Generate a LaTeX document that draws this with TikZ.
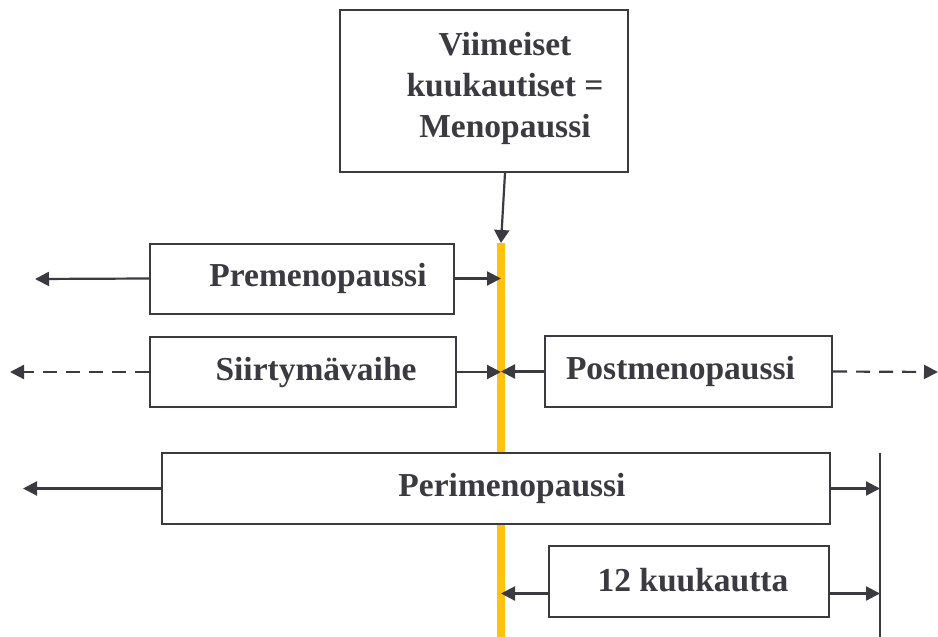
\documentclass[tikz,border=0pt]{standalone}
\usepackage{fontspec}
\setmainfont{Liberation Serif}
\usetikzlibrary{arrows.meta,calc}
\definecolor{ln}{HTML}{3A3A40}
\definecolor{barc}{HTML}{FFC20E}
\tikzset{
  box/.style={draw=ln, line width=2pt, fill=white, inner sep=0pt},
  txt/.style={text=ln, font=\fontsize{33.5}{41}\selectfont\bfseries, align=center, inner sep=0pt},
  arr/.style={draw=ln, line width=2.2pt, -{Triangle[length=14pt,width=14pt]}},
  darr/.style={arr, dash pattern=on 14pt off 9pt},
}
\begin{document}
\begin{tikzpicture}[x=1pt,y=-1pt]
\useasboundingbox (0,0) rectangle (938,637);
% yellow time line
\coordinate (bartop) at (501,243);
\coordinate (barbot) at (501,637);
\draw[barc, line width=7.5pt] (bartop) -- (barbot);
% black end line
\coordinate (vt) at (880,453);
\coordinate (vb) at (880,637);
\draw[ln, line width=1.8pt] (vt) -- (vb);
% top box
\node[box, minimum width=288pt, minimum height=162pt] (top) at (484,91) {};
\node[txt] (toptxt) at (505,88) {Viimeiset\\kuukautiset =\\Menopaussi};
\draw[arr, -{Triangle[length=13pt,width=15pt]}] ([xshift=21pt]top.south) -- (bartop);
% Premenopaussi
\node[box, minimum width=304pt, minimum height=70pt,
      label={[txt, xshift=16pt]center:Premenopaussi}] (pre) at (302,278.5) {};
\coordinate (preL) at (35,279);
\draw[arr] (pre.west) -- (preL);
\draw[arr] (pre.east) -- (pre.east -| bartop);
% Siirtymavaihe
\node[box, minimum width=306pt, minimum height=70pt,
      label={[txt, xshift=13pt]center:Siirtymävaihe}] (sii) at (303,372) {};
\coordinate (siiL) at (10,372);
\draw[darr] (sii.west) -- (siiL);
\draw[arr] (sii.east) -- (sii.east -| bartop);
% Postmenopaussi
\node[box, minimum width=287pt, minimum height=71pt,
      label={[txt, xshift=-8pt]center:Postmenopaussi}] (post) at (688.5,371.5) {};
\coordinate (postR) at (938,372);
\draw[arr] (post.west) -- (post.west -| bartop);
\draw[darr] (post.east) -- (postR);
% Perimenopaussi
\node[box, minimum width=668pt, minimum height=71pt,
      label={[txt, xshift=16pt]center:Perimenopaussi}] (peri) at (496,488.5) {};
\coordinate (periL) at (23,488.5);
\draw[arr] (peri.west) -- (periL);
\draw[arr] (peri.east) -- (peri.east -| vt);
% 12 kuukautta
\node[box, minimum width=280pt, minimum height=71pt,
      label={[txt, xshift=4pt, yshift=1pt]center:12 kuukautta}] (k12) at (689,581.5) {};
\coordinate (kL) at ($(k12.west)+(0,12)$);
\coordinate (kR) at ($(k12.east)+(0,12)$);
\draw[arr] (kL) -- (kL -| bartop);
\draw[arr] (kR) -- (kR -| vt);
\end{tikzpicture}
\end{document}
